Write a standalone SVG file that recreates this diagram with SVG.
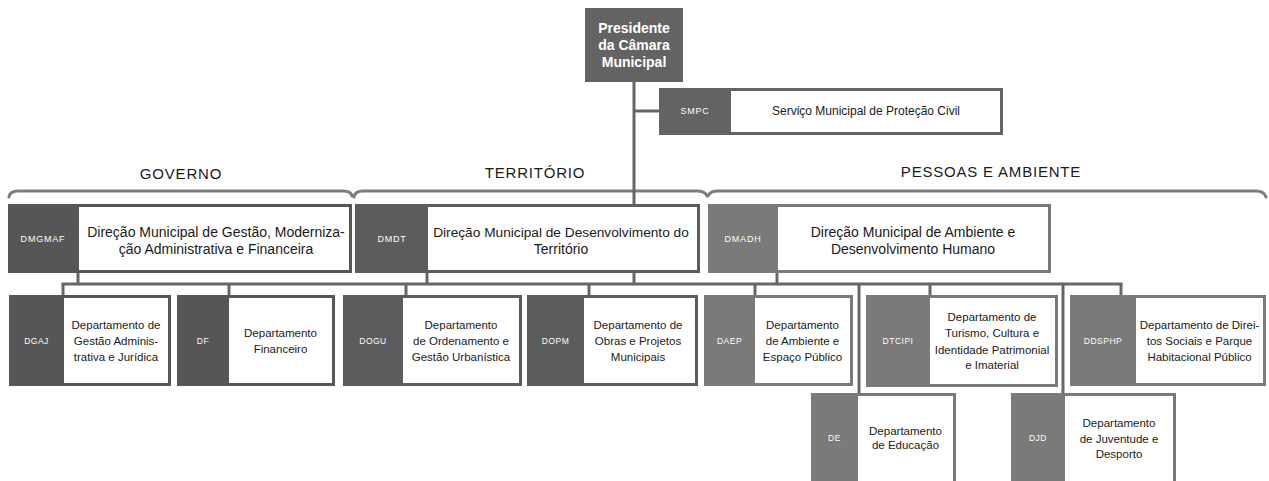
<svg xmlns="http://www.w3.org/2000/svg" width="1269" height="481" viewBox="0 0 1269 481">
<style>
text{font-family:"Liberation Sans",Arial,sans-serif}
.lbl{font-size:14px;fill:#1a1a1a;text-anchor:middle}
.dl{font-size:11.5px;fill:#1a1a1a;text-anchor:middle}
.ab{font-size:9px;fill:#ffffff;text-anchor:middle;letter-spacing:0.8px}
.abd{font-size:8.5px;fill:#ffffff;text-anchor:middle;letter-spacing:0.5px}
.hd{font-size:15px;fill:#1a1a1a;text-anchor:middle;letter-spacing:0.8px}
.pres{font-size:14px;font-weight:bold;fill:#ffffff;text-anchor:middle}
.w{fill:#ffffff}
.d1{fill:#565656}
.d2{fill:#5c5c5c}
.d3{fill:#7a7a7a}
.d4{fill:#636363}
.con{stroke:#666666;stroke-width:3;fill:none}
.brace{stroke:#7d7d7d;stroke-width:3;fill:none;stroke-linecap:round}
</style>

<g id="braces">
<path class="brace" d="M9,197 Q10,191 18,191 L343,191 Q351,191 352,196"/>
<text class="hd" x="181" y="179">GOVERNO</text>
<path class="brace" d="M354,197 Q355,191 363,191 L697,191 Q705,191 707,196"/>
<text class="hd" x="535" y="178">TERRITÓRIO</text>
<path class="brace" d="M708,196 Q710,191 718,191 L1256,191 Q1264,191 1266,197"/>
<text class="hd" x="991" y="177">PESSOAS E AMBIENTE</text>
</g>

<g id="connectors">
<line class="con" x1="634" y1="82" x2="634" y2="285"/>
<line class="con" x1="634" y1="111" x2="659" y2="111"/>
<line class="con" x1="78" y1="273" x2="78" y2="285"/>
<line class="con" x1="427" y1="273" x2="427" y2="285"/>
<line class="con" x1="777" y1="273" x2="777" y2="285"/>
<line class="con" x1="61.5" y1="284" x2="1122.5" y2="284"/>
<line class="con" x1="63" y1="284" x2="63" y2="295"/>
<line class="con" x1="229" y1="284" x2="229" y2="295"/>
<line class="con" x1="406" y1="284" x2="406" y2="295"/>
<line class="con" x1="589" y1="284" x2="589" y2="295"/>
<line class="con" x1="755" y1="284" x2="755" y2="295"/>
<line class="con" x1="930" y1="284" x2="930" y2="295"/>
<line class="con" x1="1121" y1="284" x2="1121" y2="295"/>
<line class="con" x1="859" y1="284" x2="859" y2="393"/>
<line class="con" x1="1063" y1="284" x2="1063" y2="393"/>
</g>

<g id="presidente">
<rect class="d4" x="585" y="8" width="98" height="74"/>
<text class="pres" x="634" y="33">Presidente</text>
<text class="pres" x="634" y="50">da Câmara</text>
<text class="pres" x="634" y="67">Municipal</text>
</g>

<g id="smpc">
<rect class="d4" x="659" y="88" width="344" height="47"/>
<rect class="w" x="731" y="91" width="269" height="41"/>
<text class="ab" x="695" y="114">SMPC</text>
<text class="dl" x="866" y="115" style="font-size:12px">Serviço Municipal de Proteção Civil</text>
</g>

<g id="dmgmaf">
<rect class="d1" x="8" y="204" width="344" height="69"/>
<rect class="w" x="79" y="207" width="270" height="63"/>
<text class="ab" x="43" y="241.5">DMGMAF</text>
<text class="lbl" x="216" y="237">Direção Municipal de Gestão, Moderniza-</text>
<text class="lbl" x="216" y="254">ção Administrativa e Financeira</text>
</g>

<g id="dmdt">
<rect class="d2" x="355" y="204" width="345" height="69"/>
<rect class="w" x="428" y="207" width="269" height="63"/>
<text class="ab" x="392" y="241.5">DMDT</text>
<text class="lbl" x="561" y="237" style="font-size:13.7px">Direção Municipal de Desenvolvimento do</text>
<text class="lbl" x="561" y="254">Território</text>
</g>

<g id="dmadh">
<rect class="d3" x="708" y="204" width="343" height="69"/>
<rect class="w" x="778" y="207" width="270" height="63"/>
<text class="ab" x="743" y="241.5">DMADH</text>
<text class="lbl" x="913" y="237">Direção Municipal de Ambiente e</text>
<text class="lbl" x="913" y="254">Desenvolvimento Humano</text>
</g>

<g id="dgaj">
<rect class="d1" x="9" y="295" width="162" height="91"/>
<rect class="w" x="64" y="298" width="104" height="85"/>
<text class="abd" x="36.5" y="343.5">DGAJ</text>
<text class="dl" x="116" y="329">Departamento de</text>
<text class="dl" x="116" y="345">Gestão Adminis-</text>
<text class="dl" x="116" y="361">trativa e Jurídica</text>
</g>

<g id="df">
<rect class="d1" x="177" y="295" width="158" height="91"/>
<rect class="w" x="229" y="298" width="103" height="85"/>
<text class="abd" x="203" y="343.5">DF</text>
<text class="dl" x="280.5" y="337">Departamento</text>
<text class="dl" x="280.5" y="353">Financeiro</text>
</g>

<g id="dogu">
<rect class="d2" x="343" y="295" width="179" height="91"/>
<rect class="w" x="403" y="298" width="116" height="85"/>
<text class="abd" x="373" y="343.5">DOGU</text>
<text class="dl" x="461" y="329">Departamento</text>
<text class="dl" x="461" y="345">de Ordenamento e</text>
<text class="dl" x="461" y="361">Gestão Urbanística</text>
</g>

<g id="dopm">
<rect class="d2" x="527" y="295" width="171" height="91"/>
<rect class="w" x="584" y="298" width="111" height="85"/>
<text class="abd" x="555.5" y="343.5">DOPM</text>
<text class="dl" x="638" y="329">Departamento de</text>
<text class="dl" x="638" y="345">Obras e Projetos</text>
<text class="dl" x="638" y="361">Municipais</text>
</g>

<g id="daep">
<rect class="d3" x="704" y="295" width="149" height="91"/>
<rect class="w" x="755" y="298" width="95" height="85"/>
<text class="abd" x="729.5" y="343.5">DAEP</text>
<text class="dl" x="802.5" y="329">Departamento</text>
<text class="dl" x="802.5" y="345">de Ambiente e</text>
<text class="dl" x="802.5" y="361">Espaço Público</text>
</g>

<g id="dtcipi">
<rect class="d3" x="866" y="295" width="192" height="92"/>
<rect class="w" x="930" y="298" width="125" height="86"/>
<text class="abd" x="898" y="343.5">DTCIPI</text>
<text class="dl" x="992" y="321">Departamento de</text>
<text class="dl" x="992" y="337">Turismo, Cultura e</text>
<text class="dl" x="992" y="354">Identidade Patrimonial</text>
<text class="dl" x="992" y="369">e Imaterial</text>
</g>

<g id="ddsphp">
<rect class="d3" x="1070" y="295" width="196" height="91"/>
<rect class="w" x="1136" y="298" width="127" height="85"/>
<text class="abd" x="1103" y="343.5">DDSPHP</text>
<text class="dl" x="1199.5" y="329">Departamento de Direi-</text>
<text class="dl" x="1199.5" y="345">tos Sociais e Parque</text>
<text class="dl" x="1199.5" y="361">Habitacional Público</text>
</g>

<g id="de">
<rect class="d3" x="811" y="393" width="145" height="92"/>
<rect class="w" x="858" y="396" width="95" height="86"/>
<text class="abd" x="834.5" y="441">DE</text>
<text class="dl" x="905.5" y="435">Departamento</text>
<text class="dl" x="905.5" y="449">de Educação</text>
</g>

<g id="djd">
<rect class="d3" x="1011" y="393" width="165" height="92"/>
<rect class="w" x="1065" y="396" width="108" height="86"/>
<text class="abd" x="1038" y="441">DJD</text>
<text class="dl" x="1119" y="427">Departamento</text>
<text class="dl" x="1119" y="443">de Juventude e</text>
<text class="dl" x="1119" y="458">Desporto</text>
</g>
</svg>
